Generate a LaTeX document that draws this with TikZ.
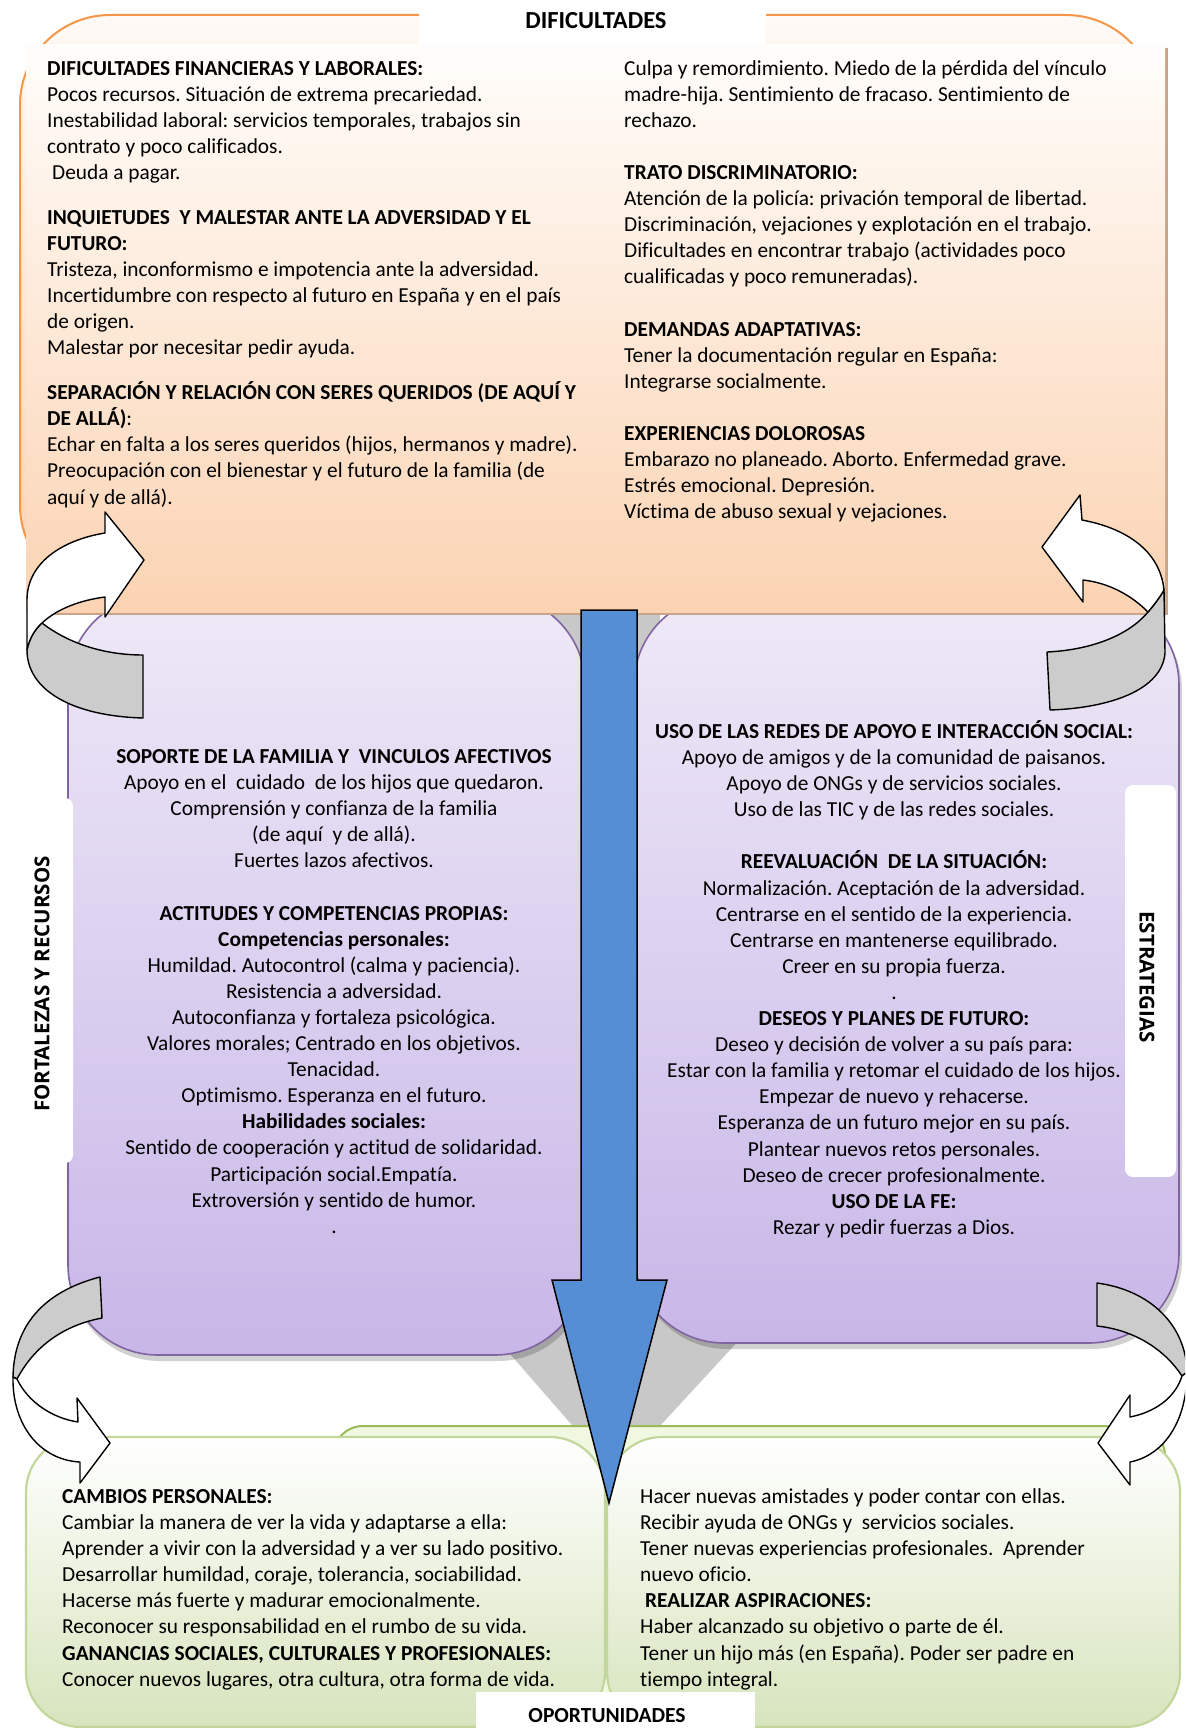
\documentclass[tikz,border=0pt]{standalone}
\usepackage{fontspec}
\setmainfont{Carlito}[Ligatures=NoCommon]
\newfontfamily\labelfont{Open Sans}
\frenchspacing
\definecolor{orangeline}{HTML}{F79646}
\definecolor{peachtop}{HTML}{FFFDFB}
\definecolor{peachbot}{HTML}{FBD3B2}
\definecolor{peachshadow}{HTML}{C9A488}
\definecolor{purpleline}{HTML}{8064A2}
\definecolor{purpletop}{HTML}{EEE9F7}
\definecolor{purplebot}{HTML}{C8B6E8}
\definecolor{greenline}{HTML}{C3D69B}
\definecolor{greendark}{HTML}{9BBB59}
\definecolor{greenback}{HTML}{F1F8E2}
\definecolor{greenbot}{HTML}{D7E4BD}
\definecolor{flowblue}{HTML}{558ED5}
\definecolor{funnelgrey}{HTML}{C8C8C8}
\definecolor{arrowgrey}{HTML}{CCCCCC}
\tikzset{
  bodytext/.style={inner sep=0pt, font=\fontsize{21.35}{26.1}\selectfont},
  lefttext/.style={bodytext, align=left, anchor=north west},
  centertext/.style={bodytext, align=center, anchor=north},
  titletext/.style={inner sep=0pt, font=\fontsize{21.5}{26.1}\selectfont\bfseries, anchor=base},
  sidetext/.style={inner sep=0pt, font=\labelfont\bfseries\fontsize{20.5}{24}\selectfont},
  arrowfront/.style={fill=white, draw=black, line width=1.4pt, line join=round},
  arrowback/.style={fill=arrowgrey, draw=black, line width=1.4pt, line join=round},
  purplebox/.style={draw=purpleline, line width=1.6pt, rounded corners=90pt, top color=purpletop, bottom color=purplebot},
  greenbox/.style={draw=greenline, line width=2.2pt, rounded corners=55pt, top color=white, bottom color=greenbot},
  labelbox/.style={fill=white, rounded corners=8pt}
}
\begin{document}
\begin{tikzpicture}[x=1pt,y=-1pt]
\useasboundingbox (0,0) rectangle (1185,1728);
\clip (0,0) rectangle (1185,1728);
\fill[white] (0,0) rectangle (1185,1728);

% grey funnel behind the central arrow
\fill[funnelgrey] (550,600) rectangle (660,670);
\fill[funnelgrey] (463,1300) -- (776,1300) -- (647,1440) -- (585,1440) -- cycle;

% purple strategy / resource panels, with soft shadow
\fill[black, opacity=0.18, rounded corners=90pt] (70,600) rectangle (588,1361);
\fill[black, opacity=0.18, rounded corners=90pt] (637,600) rectangle (1182,1349);
\path[purplebox] (68,595) rectangle (585,1355);
\path[purplebox] (634,595) rectangle (1179,1343);

% green opportunity panels
\filldraw[draw=greendark, fill=greenback, line width=2pt, rounded corners=30pt] (333,1426) rectangle (1165,1712);
\path[greenbox] (26,1437) rectangle (605,1727);
\path[greenbox] (607,1437) rectangle (1180,1727);

% orange difficulty panel
\path[draw=orangeline, line width=2pt, rounded corners=90pt, top color=white!60!peachbot!30, bottom color=peachbot] (20,15) rectangle (1156,595);
\fill[peachshadow] (29,48) rectangle (1168,615);
\path[top color=peachtop, bottom color=peachbot] (26,45) rectangle (1165,612);

% title tabs
\fill[white] (419,0) rectangle (766,44);
\fill[white] (476,1692) rectangle (755,1728);
\path[labelbox] (-10,798) rectangle (73,1163);
\path[labelbox] (1125,785) rectangle (1176,1177);

% central downward arrow
\filldraw[fill=flowblue, draw=black, line width=1.5pt, line join=miter]
  (581,610) -- (637,610) -- (637,1280) -- (667,1280) -- (609,1503) -- (552,1280) -- (581,1280) -- cycle;

% curved arrow, top left
\filldraw[arrowback] (27,650) .. controls (29,640) and (34,630) .. (42,623)
  .. controls (68,643) and (103,655) .. (143,655) -- (143,718)
  .. controls (72,716) and (27,690) .. (27,650) -- cycle;
\filldraw[arrowfront] (105,533) .. controls (62,540) and (27,563) .. (27,600) -- (27,650)
  .. controls (29,640) and (34,630) .. (42,623)
  .. controls (58,608) and (82,600) .. (105,597) -- (105,617) -- (144,560) -- (105,512) -- cycle;

% curved arrow, top right
\filldraw[arrowback] (1164,590) -- (1165,653) .. controls (1162,690) and (1110,708) .. (1050,710)
  -- (1047,652) .. controls (1090,650) and (1128,636) .. (1148,612)
  .. controls (1154,605) and (1160,597) .. (1164,590) -- cycle;
\filldraw[arrowfront] (1082,520) .. controls (1125,528) and (1160,550) .. (1164,590)
  .. controls (1160,597) and (1154,605) .. (1148,612)
  .. controls (1132,596) and (1110,583) .. (1083,580) -- (1083,602) -- (1042,547) -- (1080,495) -- cycle;

% curved arrow, bottom left
\filldraw[arrowback] (100,1277) .. controls (50,1290) and (14,1320) .. (13,1377) -- (17,1379)
  .. controls (35,1345) and (65,1325) .. (102,1318) -- cycle;
\filldraw[arrowfront] (13,1377) .. controls (12,1425) and (40,1460) .. (80,1462) -- (80,1483)
  -- (110,1443) -- (77,1398) -- (78,1422) .. controls (52,1418) and (28,1402) .. (17,1379) -- cycle;

% curved arrow, bottom right
\filldraw[arrowback] (1097,1283) .. controls (1150,1290) and (1186,1325) .. (1187,1372) -- (1182,1376)
  .. controls (1165,1350) and (1135,1330) .. (1097,1326) -- cycle;
\filldraw[arrowfront] (1187,1372) .. controls (1187,1420) and (1165,1455) .. (1130,1462) -- (1130,1485)
  -- (1098,1443) -- (1130,1395) -- (1130,1417) .. controls (1155,1412) and (1175,1398) .. (1182,1376) -- cycle;

% titles
\node[titletext, font=\fontsize{24.5}{28}\selectfont\bfseries] (dif) at (596,29) {DIFICULTADES};
\node[titletext] (opo) at (607,1722) {OPORTUNIDADES};
\node[sidetext, rotate=90] (fort) at (42,984) {FORTALEZAS Y RECURSOS};
\node[sidetext, rotate=-90] (estr) at (1147,977) {ESTRATEGIAS};

% difficulties, left column
\node[lefttext] (difleft) at (47,56.7) {\strut\textbf{DIFICULTADES FINANCIERAS Y LABORALES:}\\
Pocos recursos. Situación de extrema precariedad.\\
Inestabilidad laboral: servicios temporales, trabajos sin\\
contrato y poco calificados.\\
\hspace*{5pt}Deuda a pagar.\\[18.7pt]
\textbf{INQUIETUDES\ \ Y MALESTAR ANTE LA ADVERSIDAD Y EL}\\
\textbf{FUTURO:}\\
Tristeza, inconformismo e impotencia ante la adversidad.\\
Incertidumbre con respecto al futuro en España y en el país\\
de origen.\\
Malestar por necesitar pedir ayuda.\\[18.7pt]
\textbf{SEPARACIÓN Y RELACIÓN CON SERES QUERIDOS (DE AQUÍ Y}\\
\textbf{DE ALLÁ)}:\\
Echar en falta a los seres queridos (hijos, hermanos y madre).\\
Preocupación con el bienestar y el futuro de la familia (de\\
aquí y de allá).};

% difficulties, right column
\node[lefttext] (difright) at (624,56.7) {\strut Culpa y remordimiento. Miedo de la pérdida del vínculo\\
madre-hija. Sentimiento de fracaso. Sentimiento de\\
rechazo.\\[26.1pt]
\textbf{TRATO DISCRIMINATORIO:}\\
Atención de la policía: privación temporal de libertad.\\
Discriminación, vejaciones y explotación en el trabajo.\\
Dificultades en encontrar trabajo (actividades poco\\
cualificadas y poco remuneradas).\\[26.1pt]
\textbf{DEMANDAS ADAPTATIVAS:}\\
Tener la documentación regular en España:\\
Integrarse socialmente.\\[26.1pt]
\textbf{EXPERIENCIAS DOLOROSAS}\\
Embarazo no planeado. Aborto. Enfermedad grave.\\
Estrés emocional. Depresión.\\
Víctima de abuso sexual y vejaciones.};

% strengths and resources
\node[centertext] (recursos) at (334,745) {\strut\textbf{SOPORTE DE LA FAMILIA Y\ \ VINCULOS AFECTIVOS}\\
Apoyo en el\ \ cuidado\ \ de los hijos que quedaron.\\
Comprensión y confianza de la familia\\
(de aquí\ \ y de allá).\\
Fuertes lazos afectivos.\\[26.1pt]
\textbf{ACTITUDES Y COMPETENCIAS PROPIAS:}\\
\textbf{Competencias personales:}\\
Humildad. Autocontrol (calma y paciencia).\\
Resistencia a adversidad.\\
Autoconfianza y fortaleza psicológica.\\
Valores morales; Centrado en los objetivos.\\
Tenacidad.\\
Optimismo. Esperanza en el futuro.\\
\textbf{Habilidades sociales:}\\
Sentido de cooperación y actitud de solidaridad.\\
Participación social.Empatía.\\
Extroversión y sentido de humor.\\
.};

% strategies
\node[centertext] (estrategias) at (894,720) {\strut\textbf{USO DE LAS REDES DE APOYO E INTERACCIÓN SOCIAL:}\\
Apoyo de amigos y de la comunidad de paisanos.\\
Apoyo de ONGs y de servicios sociales.\\
Uso de las TIC y de las redes sociales.\\[26.1pt]
\textbf{REEVALUACIÓN\ \ DE LA SITUACIÓN:}\\
Normalización. Aceptación de la adversidad.\\
Centrarse en el sentido de la experiencia.\\
Centrarse en mantenerse equilibrado.\\
Creer en su propia fuerza.\\
.\\
\textbf{DESEOS Y PLANES DE FUTURO:}\\
Deseo y decisión de volver a su país para:\\
Estar con la familia y retomar el cuidado de los hijos.\\
Empezar de nuevo y rehacerse.\\
Esperanza de un futuro mejor en su país.\\
Plantear nuevos retos personales.\\
Deseo de crecer profesionalmente.\\
\textbf{USO DE LA FE:}\\
Rezar y pedir fuerzas a Dios.};

% opportunities, left
\node[lefttext] (opleft) at (62,1485) {\strut\textbf{CAMBIOS PERSONALES:}\\
Cambiar la manera de ver la vida y adaptarse a ella:\\
Aprender a vivir con la adversidad y a ver su lado positivo.\\
Desarrollar humildad, coraje, tolerancia, sociabilidad.\\
Hacerse más fuerte y madurar emocionalmente.\\
Reconocer su responsabilidad en el rumbo de su vida.\\
\textbf{GANANCIAS SOCIALES, CULTURALES Y PROFESIONALES:}\\
Conocer nuevos lugares, otra cultura, otra forma de vida.};

% opportunities, right
\node[lefttext] (opright) at (640,1485) {\strut Hacer nuevas amistades y poder contar con ellas.\\
Recibir ayuda de ONGs y\ \ servicios sociales.\\
Tener nuevas experiencias profesionales.\ \ Aprender\\
nuevo oficio.\\
\hspace*{5pt}\textbf{REALIZAR ASPIRACIONES:}\\
Haber alcanzado su objetivo o parte de él.\\
Tener un hijo más (en España). Poder ser padre en\\
tiempo integral.};
\end{tikzpicture}
\end{document}
